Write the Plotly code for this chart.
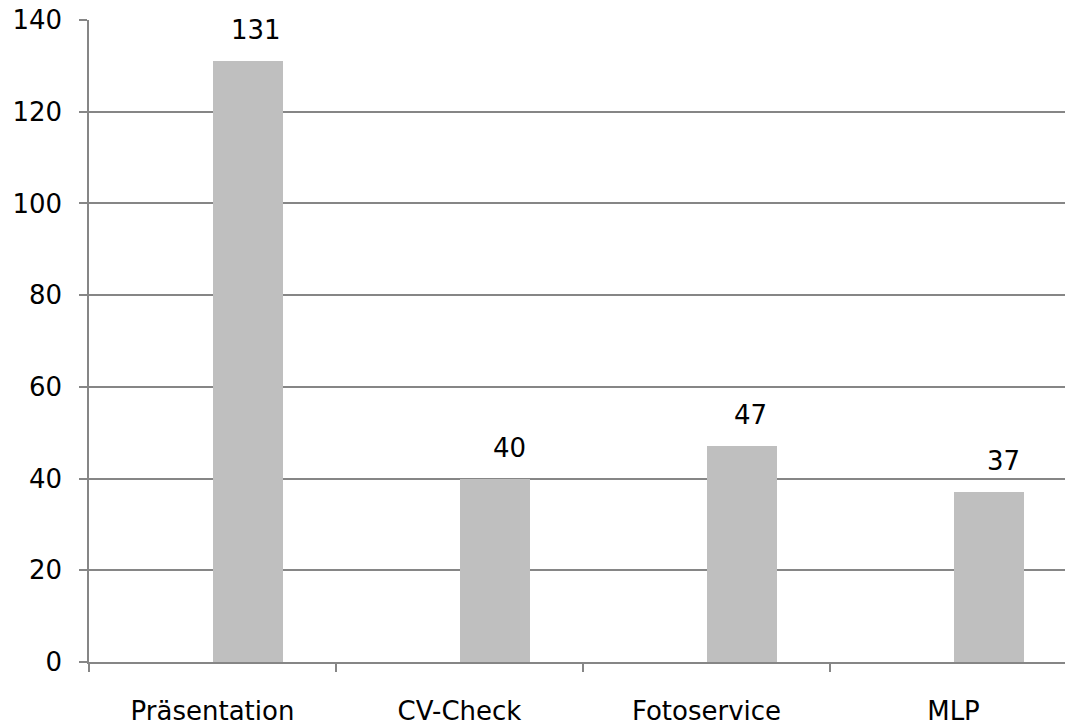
import plotly.graph_objects as go

categories = ["Präsentation", "CV-Check", "Fotoservice", "MLP"]
values = [131, 40, 47, 37]

# style settings (not data)
bar_width = 0.287
label_dx = [8, 15, 9, 15]
font_family = "DejaVu Sans, sans-serif"
grid_color = "#868686"

fig = go.Figure()
fig.add_trace(go.Bar(
    x=categories,
    y=values,
    width=bar_width,
    offset=0,
    marker=dict(color="#BFBFBF", line=dict(width=0)),
    hoverinfo="skip",
))

for i, v in enumerate(values):
    fig.add_annotation(
        x=i + bar_width / 2, y=v, xref="x", yref="y",
        text=str(v), showarrow=False,
        xanchor="center", yanchor="middle",
        xshift=label_dx[i], yshift=31,
        font=dict(family=font_family, size=26, color="#000000"),
    )

fig.update_layout(
    width=1065, height=726,
    margin=dict(l=89, r=0, t=20, b=64),
    paper_bgcolor="white", plot_bgcolor="white",
    showlegend=False,
    font=dict(family=font_family, size=26, color="#000000"),
    bargap=0,
)
fig.update_xaxes(
    type="category",
    categoryorder="array", categoryarray=categories,
    range=[-0.5, -0.5 + 976 / 247],
    ticks="outside", ticklen=8, tickcolor=grid_color, tickwidth=1.5,
    showline=True, linecolor=grid_color, linewidth=1.5,
    showgrid=False, zeroline=False,
    ticklabelstandoff=25,
    tickson="boundaries",
)
fig.update_yaxes(
    range=[0, 140], dtick=20, tick0=0,
    ticks="outside", ticklen=8, tickcolor=grid_color, tickwidth=1.5,
    showline=True, linecolor=grid_color, linewidth=1.5,
    showgrid=True, gridcolor=grid_color, gridwidth=1.5,
    zeroline=False,
    ticklabelstandoff=12,
)

fig.write_html(
    "out.html",
    config={"displayModeBar": False},
    post_script="document.body.style.margin='0';document.body.style.overflow='hidden';",
)
